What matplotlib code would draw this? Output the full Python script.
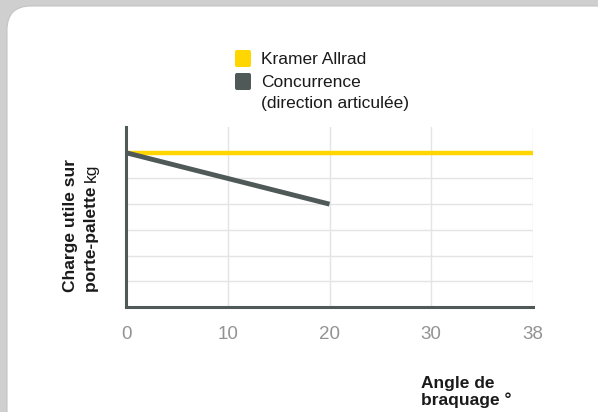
import matplotlib
matplotlib.use("Agg")
import matplotlib.pyplot as plt
from matplotlib.patches import FancyBboxPatch
from matplotlib.transforms import IdentityTransform

plt.rcParams['font.family'] = ['Liberation Sans', 'DejaVu Sans']

# Data (categorical x positions, equally spaced)
angle_labels = ["0", "10", "20", "30", "38"]
kramer_values = [6, 6, 6, 6, 6]
concurrence_values = [6, 5, 4]
series_names = ["Kramer Allrad", "Concurrence\n(direction articulée)"]
series_colors = ["#ffd600", "#4f5957"]

W, H = 598, 412
fig = plt.figure(figsize=(W / 100, H / 100), dpi=100)
fig.patch.set_facecolor("#cfcfcf")

# white card
card = FancyBboxPatch((7, -40), 620, H - 6 + 40,
                      boxstyle="round,pad=0,rounding_size=24",
                      transform=IdentityTransform(), facecolor="white",
                      edgecolor="#c4c4c4", linewidth=0.8, zorder=-5)
fig.patches.append(card)

ax = fig.add_axes([126 / W, 1 - 307 / H, (533 - 126) / W, (307 - 127) / H])
ax.set_zorder(2)
ax.set_facecolor("none")

x_all = list(range(len(angle_labels)))
ax.plot(x_all, kramer_values, color=series_colors[0], lw=3.2,
        solid_capstyle="butt", zorder=3, clip_on=False)
ax.plot(x_all[:len(concurrence_values)], concurrence_values,
        color=series_colors[1], lw=3.5, solid_capstyle="butt", zorder=4)

ax.set_xlim(0, len(angle_labels) - 1)
ax.set_ylim(0, 7)
ax.set_xticks(x_all)
ax.set_xticklabels(angle_labels)
ax.set_yticks(range(1, 7))
ax.set_yticklabels([])
ax.tick_params(axis="both", length=0)
ax.tick_params(axis="x", pad=14, labelsize=13.5, labelcolor="#939393")
ax.grid(True, color="#e4e4e4", lw=1.0, zorder=0)
for s in ["top", "right"]:
    ax.spines[s].set_visible(False)
for s in ["left", "bottom"]:
    ax.spines[s].set_color("#4f5957")
    ax.spines[s].set_linewidth(2.2)
    ax.spines[s].set_zorder(5)

# legend (manual)
leg_x = 235
leg_rows = [(50, series_names[0]), (73, series_names[1])]
for (ytop, name), col in zip(leg_rows, series_colors):
    fig.patches.append(FancyBboxPatch((leg_x, H - ytop - 17), 16, 17,
                                      boxstyle="round,pad=0,rounding_size=2",
                                      transform=IdentityTransform(),
                                      facecolor=col, edgecolor="none", zorder=3))
    fig.text(261 / W, 1 - (ytop + 2) / H, name, fontsize=12.5, color="#1a1a1a",
             ha="left", va="top", linespacing=1.5)

# y label with mixed weight
fig.text(75 / W, 1 - 292 / H, "Charge utile sur", rotation=90,
         rotation_mode="anchor", ha="left", va="baseline",
         fontsize=12.5, fontweight="bold", color="#1a1a1a")
t2 = fig.text(96 / W, 1 - 292 / H, "porte-palette ", rotation=90,
              rotation_mode="anchor", ha="left", va="baseline",
              fontsize=12.5, fontweight="bold", color="#1a1a1a")
fig.canvas.draw()
bb = t2.get_window_extent(fig.canvas.get_renderer())
fig.text(96 / W, bb.y1 / H, "kg", rotation=90, rotation_mode="anchor",
         ha="left", va="baseline", fontsize=12.5, color="#1a1a1a")

# x label
fig.text(421 / W, 1 - 405 / H, "Angle de\nbraquage °", ha="left",
         va="baseline", fontsize=12.5, fontweight="bold", color="#1a1a1a",
         linespacing=1.1)

fig.savefig("out.png", dpi=100, facecolor=fig.get_facecolor())
